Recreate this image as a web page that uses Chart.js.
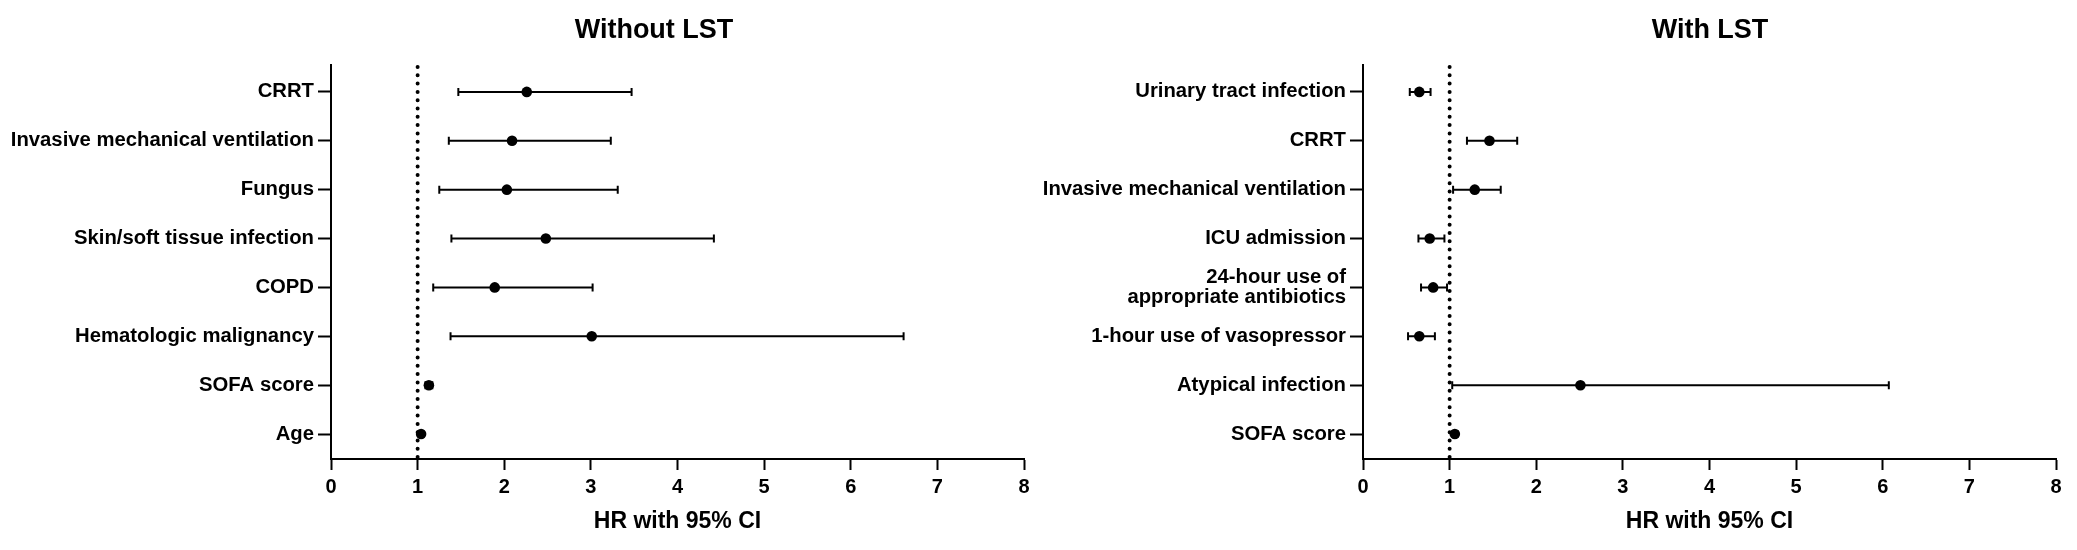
<!DOCTYPE html>
<html>
<head>
<meta charset="utf-8">
<script src="https://cdn.jsdelivr.net/npm/chart.js@4.4.1/dist/chart.umd.min.js"></script>
<style>
  html, body { margin: 0; padding: 0; background: #fff; }
  body { width: 2077px; height: 550px; position: relative; overflow: hidden; }
  canvas { position: absolute; top: 0; }
  #left { left: 0; }
  #right { left: 1037px; }
</style>
</head>
<body>
<canvas id="left" width="1037" height="550"></canvas>
<canvas id="right" width="1040" height="550"></canvas>
<script>
// reference value for the dotted line
const REF_HR = 1;
const xTicks = [0, 1, 2, 3, 4, 5, 6, 7, 8];

// Without LST
const labelsNoLst = ['CRRT', 'Invasive mechanical ventilation', 'Fungus', 'Skin/soft tissue infection',
  'COPD', 'Hematologic malignancy', 'SOFA score', 'Age'];
const hrNoLst = [2.26, 2.09, 2.03, 2.48, 1.89, 3.01, 1.13, 1.04];
const loNoLst = [1.47, 1.36, 1.25, 1.39, 1.18, 1.38, 1.09, 1.02];
const hiNoLst = [3.47, 3.23, 3.31, 4.42, 3.02, 6.61, 1.17, 1.06];

// With LST
const labelsLst = ['Urinary tract infection', 'CRRT', 'Invasive mechanical ventilation', 'ICU admission',
  ['24-hour use of', 'appropriate antibiotics'], '1-hour use of vasopressor', 'Atypical infection', 'SOFA score'];
const hrLst = [0.65, 1.46, 1.29, 0.77, 0.81, 0.65, 2.51, 1.06];
const loLst = [0.54, 1.20, 1.04, 0.64, 0.67, 0.52, 1.03, 1.04];
const hiLst = [0.78, 1.78, 1.59, 0.94, 0.97, 0.83, 6.07, 1.09];

const FONT = "'Liberation Sans', Arial, Helvetica, sans-serif";

// draws the dotted reference line, the CI whiskers and the panel title
function forestPlugin(lo, hi, title, titleX) {
  return {
    id: 'forest',
    beforeDatasetsDraw(chart) {
      const { ctx, chartArea, scales: { x, y } } = chart;
      ctx.save();
      ctx.strokeStyle = '#000';

      const xr = x.getPixelForValue(REF_HR);
      ctx.lineWidth = 4;
      ctx.lineCap = 'round';
      ctx.setLineDash([0, 8.3]);
      ctx.beginPath();
      ctx.moveTo(xr, chartArea.top + 2);
      ctx.lineTo(xr, chartArea.bottom);
      ctx.stroke();

      ctx.setLineDash([]);
      ctx.lineCap = 'butt';
      ctx.lineWidth = 2;
      lo.forEach((v, i) => {
        const py = y.getPixelForValue(i);
        const x0 = x.getPixelForValue(v);
        const x1 = x.getPixelForValue(hi[i]);
        ctx.beginPath();
        ctx.moveTo(x0, py); ctx.lineTo(x1, py);
        ctx.moveTo(x0, py - 4); ctx.lineTo(x0, py + 4);
        ctx.moveTo(x1, py - 4); ctx.lineTo(x1, py + 4);
        ctx.stroke();
      });
      ctx.restore();
    },
    afterDraw(chart) {
      const ctx = chart.ctx;
      ctx.save();
      ctx.fillStyle = '#000';
      ctx.font = 'bold 27px ' + FONT;
      ctx.textAlign = 'center';
      ctx.textBaseline = 'middle';
      ctx.fillText(title, titleX, 31);
      ctx.restore();
    }
  };
}

function makePanel(id, labels, hr, lo, hi, title, titleX, axisW, padRight) {
  const ctx = document.getElementById(id).getContext('2d');
  return new Chart(ctx, {
    type: 'scatter',
    data: {
      datasets: [{
        data: hr.map((v, i) => ({ x: v, y: i })),
        pointRadius: 5.3,
        pointHoverRadius: 5.3,
        pointBackgroundColor: '#000',
        pointBorderColor: '#000',
        pointBorderWidth: 0
      }]
    },
    options: {
      responsive: false,
      animation: false,
      devicePixelRatio: 1,
      layout: { padding: { top: 65, left: 0, right: padRight, bottom: 0 } },
      plugins: { legend: { display: false }, tooltip: { enabled: false }, title: { display: false } },
      scales: {
        x: {
          type: 'linear',
          min: xTicks[0],
          max: xTicks[xTicks.length - 1],
          afterBuildTicks: s => { s.ticks = xTicks.map(v => ({ value: v })); },
          border: { display: true, color: '#000', width: 2 },
          grid: { drawOnChartArea: false, drawTicks: true, tickLength: 11, tickWidth: 2, tickColor: '#000' },
          ticks: { color: '#000', padding: 5, font: { family: FONT, size: 20, weight: 'bold' } },
          title: {
            display: true, text: 'HR with 95% CI', color: '#000',
            font: { family: FONT, size: 23, weight: 'bold', lineHeight: 1 },
            padding: { top: 0, bottom: 17 }
          },
          afterFit: s => { s.height = 91; }
        },
        y: {
          type: 'linear',
          reverse: true,
          min: -0.55,
          max: labels.length - 0.49,
          afterBuildTicks: s => { s.ticks = labels.map((l, i) => ({ value: i })); },
          border: { display: true, color: '#000', width: 2 },
          grid: { drawOnChartArea: false, drawTicks: true, tickLength: 13, tickWidth: 2, tickColor: '#000' },
          ticks: {
            color: '#000', padding: 4, autoSkip: false,
            font: { family: FONT, size: 20.3, weight: 'bold', lineHeight: 0.95 },
            callback: v => labels[v]
          },
          afterFit: s => { s.width = axisW; }
        }
      }
    },
    plugins: [forestPlugin(lo, hi, title, titleX)]
  });
}

makePanel('left', labelsNoLst, hrNoLst, loNoLst, hiNoLst, 'Without LST', 654, 331, 13);
makePanel('right', labelsLst, hrLst, loLst, hiLst, 'With LST', 673, 326, 21);
</script>
</body>
</html>
